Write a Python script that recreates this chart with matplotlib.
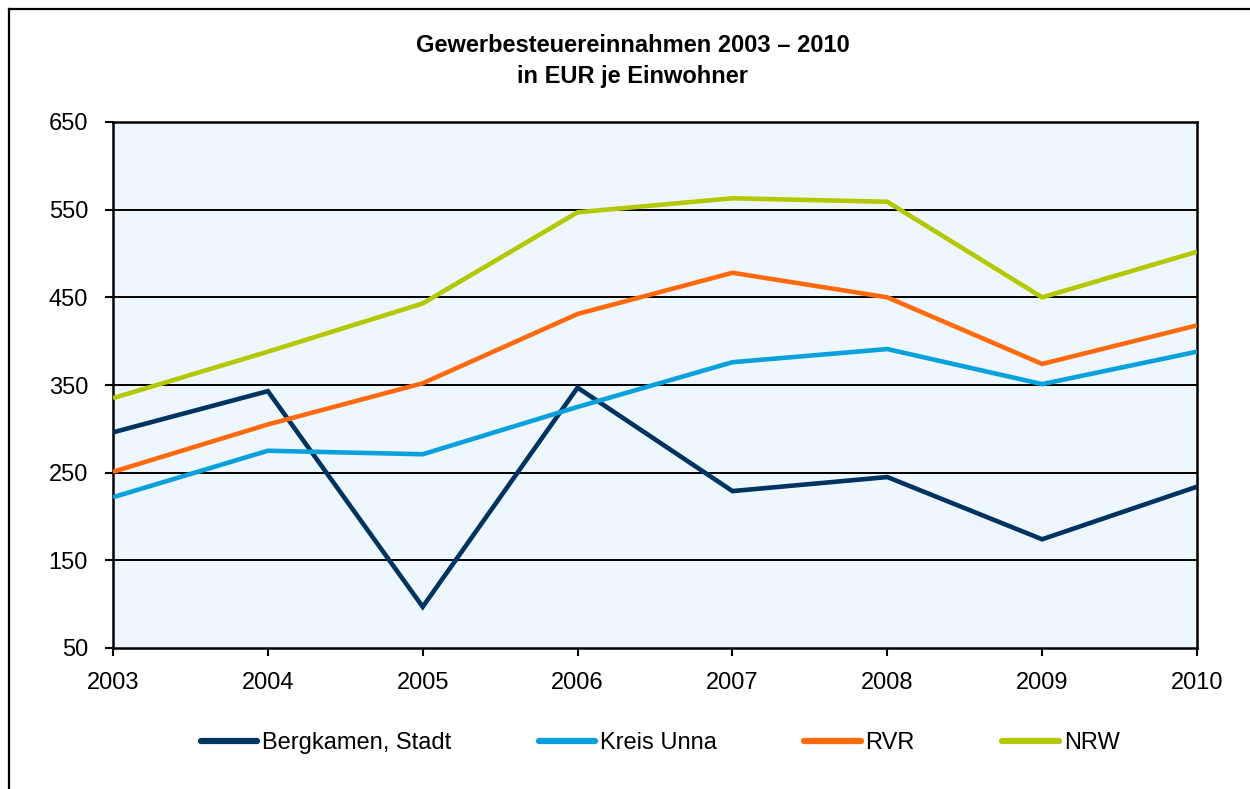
import matplotlib
matplotlib.use("Agg")
import matplotlib.pyplot as plt
from matplotlib.lines import Line2D

plt.rcParams['font.family'] = ['Liberation Sans', 'DejaVu Sans']

# Daten
years = [2003, 2004, 2005, 2006, 2007, 2008, 2009, 2010]
bergkamen = [296, 343, 97, 347, 229, 245, 174, 234]
kreis_unna = [222, 275, 271, 325, 376, 391, 351, 388]
rvr = [251, 305, 352, 431, 478, 450, 374, 418]
nrw = [335, 388, 443, 547, 563, 559, 450, 502]

series_names = ["Bergkamen, Stadt", "Kreis Unna", "RVR", "NRW"]
series_colors = ["#00335F", "#0AA0DC", "#FF6A0D", "#B4C800"]
y_ticks = [50, 150, 250, 350, 450, 550, 650]

fig = plt.figure(figsize=(12.5, 7.89), dpi=100)
ax = fig.add_axes([113 / 1250, 1 - 648 / 789, (1197 - 113) / 1250, (648 - 122) / 789])
ax.set_facecolor("#EEF6FE")

# Gitterlinien
for v in y_ticks[1:-1]:
    ax.axhline(v, color="black", lw=1.4, zorder=1)

for vals, name, col in zip([bergkamen, kreis_unna, rvr, nrw], series_names, series_colors):
    ax.plot(years, vals, color=col, lw=3.3, label=name, zorder=3,
            solid_capstyle="butt", solid_joinstyle="miter")

ax.set_xlim(2003, 2010)
ax.set_ylim(50, 650)
ax.set_xticks(years)
ax.set_yticks(y_ticks)
ax.tick_params(axis="y", direction="out", length=6, width=1.5, labelsize=17, pad=12,
               colors="black")
ax.tick_params(axis="x", direction="out", length=6, width=1.5, labelsize=17, pad=11,
               colors="black")
for s in ax.spines.values():
    s.set_linewidth(1.8)
    s.set_color("black")

fig.text(0.506, 1 - 45 / 789, "Gewerbesteuereinnahmen 2003 – 2010", ha="center", va="center",
         fontsize=17, fontweight="bold")
fig.text(0.506, 1 - 77 / 789, "in EUR je Einwohner", ha="center", va="center",
         fontsize=17, fontweight="bold")

leg = fig.legend(loc="center", bbox_to_anchor=(660 / 1250, 1 - 743 / 789), ncol=4,
                 frameon=False, fontsize=17, handlelength=2.4, handletextpad=0.2,
                 columnspacing=3.7)
for h in leg.legend_handles:
    h.set_linewidth(4.5)
    h.set_solid_capstyle("round")

# Rahmen um das Diagramm (rechts und unten abgeschnitten)
fig.add_artist(Line2D([9 / 1250, 9 / 1250], [0, 1 - 9 / 789], color="black", lw=1.6,
                      transform=fig.transFigure))
fig.add_artist(Line2D([9 / 1250, 1], [1 - 9 / 789, 1 - 9 / 789], color="black", lw=1.6,
                      transform=fig.transFigure))

fig.savefig("out.png", dpi=100)
